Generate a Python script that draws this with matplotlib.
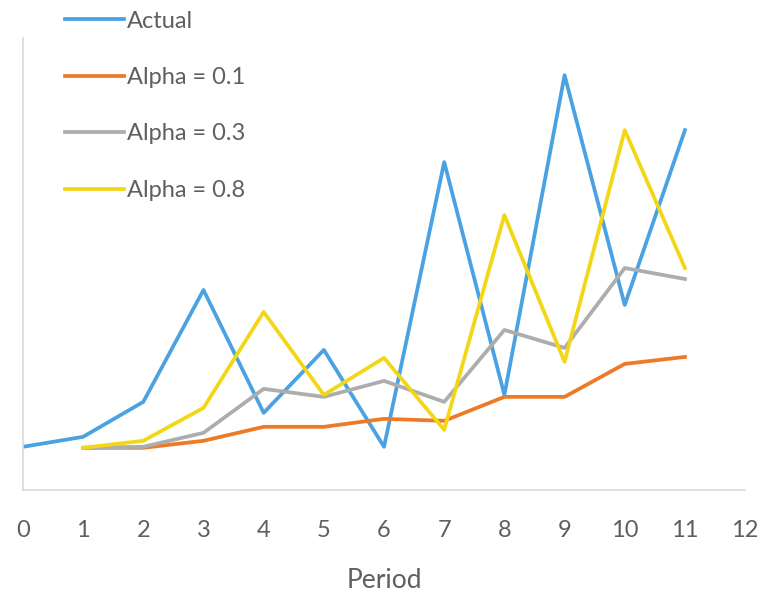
import matplotlib
matplotlib.use("Agg")
import matplotlib.pyplot as plt

plt.rcParams["font.family"] = ["Lato", "DejaVu Sans"]

# exponential smoothing demo: actual series and three forecasts
periods = [0, 1, 2, 3, 4, 5, 6, 7, 8, 9, 10, 11]
actual = [4.3, 5.3, 8.8, 20.0, 7.7, 14.0, 4.3, 32.8, 9.5, 41.5, 18.5, 36.0]

fc_periods = [1, 2, 3, 4, 5, 6, 7, 8, 9, 10, 11]
alpha_01 = [4.2, 4.2, 4.9, 6.3, 6.3, 7.1, 6.9, 9.3, 9.3, 12.6, 13.3]
alpha_03 = [4.2, 4.3, 5.7, 10.1, 9.3, 10.9, 8.8, 16.0, 14.2, 22.2, 21.1]
alpha_08 = [4.2, 4.9, 8.2, 17.8, 9.5, 13.2, 6.0, 27.5, 12.8, 36.0, 22.2]

labels = ["Actual", "Alpha = 0.1", "Alpha = 0.3", "Alpha = 0.8"]
colors = ["#4AA2E3", "#EE7A25", "#ADADAD", "#F3D716"]
text_color = "#5f5f5f"

fig = plt.figure(figsize=(7.65, 5.98), dpi=100)
ax = fig.add_axes([0.030, 0.181, 0.944, 0.755])

lw = 2.7
ax.plot(periods, actual, color=colors[0], lw=lw, label=labels[0])
ax.plot(fc_periods, alpha_01, color=colors[1], lw=lw, label=labels[1])
ax.plot(fc_periods, alpha_03, color=colors[2], lw=lw, label=labels[2])
ax.plot(fc_periods, alpha_08, color=colors[3], lw=lw, label=labels[3])

ax.set_xlim(0, 12)
ax.set_ylim(0, 45.2)
ax.set_xticks(range(0, 13))
ax.set_yticks([])
ax.tick_params(axis="x", length=0, pad=22, labelsize=17, colors=text_color)

for side in ("top", "right"):
    ax.spines[side].set_visible(False)
for side in ("left", "bottom"):
    ax.spines[side].set_color("#D9D9D9")
    ax.spines[side].set_linewidth(1.2)

ax.set_xlabel("Period", fontsize=19, color=text_color, labelpad=19)

leg = fig.legend(
    loc="upper left",
    bbox_to_anchor=(0.072, 0.998),
    frameon=False,
    fontsize=17,
    handlelength=2.5,
    handletextpad=0.15,
    labelspacing=1.5,
    borderaxespad=0,
)
for t in leg.get_texts():
    t.set_color(text_color)

fig.savefig("out.png", dpi=100)
